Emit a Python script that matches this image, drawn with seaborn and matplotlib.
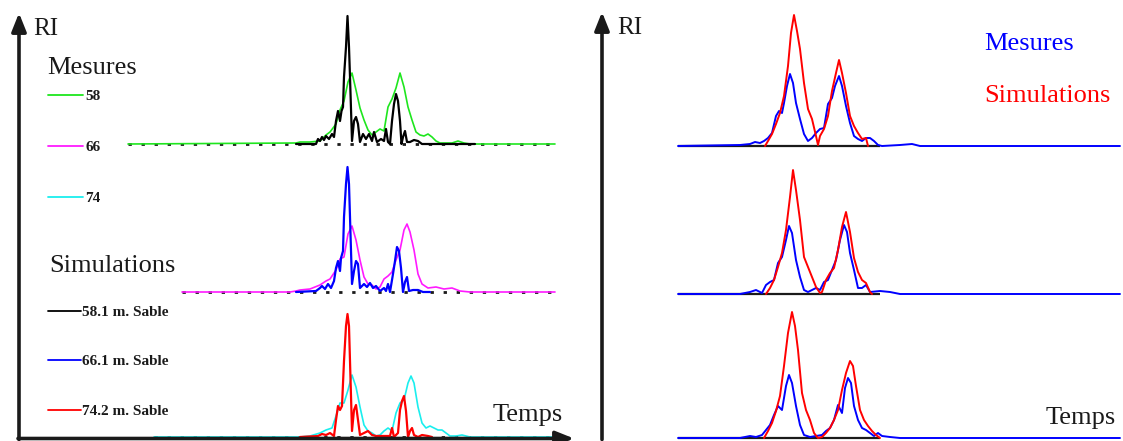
import matplotlib
matplotlib.use("Agg")
import matplotlib.pyplot as plt
import pandas as pd
import seaborn as sns

sns.set_theme(style="white")
plt.rcParams['font.family'] = ['Liberation Serif', 'DejaVu Serif']

# ---------------- data (time, RI height above each trace baseline) ----------------
# Left panel: measured curves
mes58 = [(128,0),(296,1),(300,2),(310,2),(320,3),(326,9),(330,12),(336,20),(340,34),(344,43),(348,62),
         (352,71),(356,54),(360,36),(364,24),(368,14),(372,9),(376,12),(380,15),(384,13),(388,37),(392,45),
         (396,56),(400,71),(404,57),(408,37),(412,24),(416,12),(420,9),(424,8),(428,10),(432,7),(436,3),
         (440,1),(452,1),(458,3),(464,1),(470,0),(555,0)]
mes66 = [(182,0),(290,0),(296,1),(300,2),(310,3),(320,7),(326,11),(330,13),(336,22),(340,33),(344,35),
         (348,58),(352,66),(356,52),(360,32),(364,15),(368,8),(372,7),(376,3),(380,5),(384,13),(388,16),
         (392,20),(396,32),(400,42),(404,62),(407,68),(410,60),(414,42),(418,18),(422,8),(428,4),(436,5),
         (444,3),(452,4),(460,1),(470,0),(555,0)]
mes74 = [(154,0),(300,0),(310,1),(320,4),(326,7),(332,9),(336,21),(340,34),(344,34),(348,47),(352,62),
         (356,50),(360,30),(364,12),(368,6),(372,4),(376,1),(380,2),(384,6),(388,9),(392,6),(396,24),
         (400,34),(404,37),(408,54),(411,61),(414,54),(418,30),(422,14),(426,9),(430,11),(434,9),(438,7),
         (442,7),(446,4),(450,1),(456,1),(462,2),(470,0),(555,0)]
# Left panel: simulated curves
sim58 = [(296,0),(316,0),(318,5),(320,3),(322,7),(324,4),(326,8),(329,5),(332,10),(334,7),(336,23),(338,33),
         (340,23),(341.5,33),(343,37),(344,67),(346,97),(347.5,128),(349,97),(350,67),(352,3),(354,23),
         (356,27),(358,20),(360,2),(363,10),(366,5),(369,10),(372,3),(374,12),(377,2),(381,5),(384,3),
         (386,15),(388,2),(390,0),(392,23),(394,40),(396,50),(398,43),(400,23),(401.5,0),(403,7),(405,13),
         (407,2),(410,2),(414,4),(418,3),(422,0),(475,0)]
sim66 = [(296,0),(316,1),(320,4),(322,6),(325,3),(328,8),(331,4),(334,11),(336,24),(338,31),(340,21),
         (341,34),(343,41),(344,75),(346,108),(347.5,125),(349,108),(350,75),(352,8),(354,21),(356,31),
         (358,28),(360,4),(364,8),(367,5),(370,9),(373,4),(376,6),(380,1),(384,4),(386,1),(388,8),(390,0),
         (393,18),(395,31),(397,45),(399,41),(401,24),(403,0),(405,10),(407,15),(409,1),(413,2),(418,2),
         (423,0),(430,0)]
sim74 = [(300,0),(318,1),(322,3),(326,2),(330,4),(334,1),(336,17),(338,31),(340,27),(342,31),(344,76),
         (346,111),(347.5,123),(349,111),(350,76),(352,6),(354,27),(356,32),(358,17),(360,2),(364,4),(368,6),
         (372,2),(376,1),(390,1),(392,9),(394,0),(398,4),(400,27),(402,36),(404,41),(406,26),(408,0),(410,6),
         (412,9),(414,2),(418,0),(422,2),(428,1),(432,0)]

# Right panel: measured (blue) and simulated (red)
r_mes_top = [(678,0),(740,1),(750,2),(755,4),(760,3),(764,5),(768,8),(772,13),(776,30),(779,35),(782,33),
             (784,43),(787,60),(790,72),(793,63),(796,43),(800,27),(804,12),(808,5),(812,8),(816,13),(820,17),
             (824,18),(828,42),(832,48),(835,60),(839,70),(842,60),(846,40),(850,23),(854,10),(858,7),(862,5),
             (866,8),(870,8),(874,5),(878,1),(882,0),(900,1),(912,2),(920,0),(1120,0)]
r_sim_top = [(765,0),(768,5),(772,12),(776,22),(780,33),(784,50),(788,80),(791,113),(794,131),(797,115),
             (800,97),(804,63),(808,37),(812,27),(816,10),(818,1),(820,10),(824,17),(828,30),(832,55),(836,73),
             (839,86),(842,73),(846,53),(850,30),(854,20),(858,13),(862,7),(866,8),(868,0)]
r_mes_mid = [(678,0),(740,0),(750,2),(756,4),(762,1),(766,9),(770,12),(774,14),(778,31),(782,37),(786,54),
             (789,68),(792,61),(796,34),(800,17),(804,4),(808,2),(812,4),(816,6),(820,4),(824,12),(828,14),
             (832,24),(836,34),(840,54),(844,69),(847,62),(850,41),(854,24),(858,6),(862,6),(866,9),(870,2),
             (880,3),(890,2),(900,0),(1120,0)]
r_sim_mid = [(766,0),(770,6),(774,14),(778,27),(782,41),(786,64),(790,97),(793,124),(796,104),(800,74),
             (804,37),(808,27),(812,17),(816,7),(820,1),(822,2),(826,14),(830,21),(834,26),(838,44),(842,67),
             (846,82),(850,62),(854,36),(858,22),(862,14),(866,11),(870,2),(872,0)]
r_mes_bot = [(678,0),(740,0),(750,2),(756,1),(762,3),(766,8),(770,13),(774,23),(778,32),(782,28),(786,52),
             (789,63),(792,55),(796,32),(800,13),(804,3),(810,1),(816,2),(822,3),(826,7),(830,10),(834,18),
             (838,33),(842,25),(845,50),(848,60),(851,55),(854,32),(858,18),(862,10),(866,8),(870,5),(874,2),
             (878,5),(882,2),(890,1),(900,0),(1120,0)]
r_sim_bot = [(764,0),(768,7),(772,15),(776,27),(780,42),(784,72),(788,105),(792,126),(795,112),(798,88),
             (802,45),(806,28),(810,18),(814,5),(818,0),(822,1),(826,5),(830,10),(834,18),(838,28),(842,48),
             (846,65),(850,77),(853,72),(856,52),(860,28),(864,18),(868,12),(872,7),(876,3),(880,0)]

mes_labels = ['58', '66', '74']
sim_labels = ['58.1 m. Sable', '66.1 m. Sable', '74.2 m. Sable']

# ---------------- styling / layout ----------------
GREEN, MAGENTA, CYAN = '#1ee61e', '#ff1aff', '#1aeeee'
BLUE, RED, BLACK = '#0000ff', '#ff0000', '#000000'
mes_colors = [GREEN, MAGENTA, CYAN]
sim_colors = [BLACK, BLUE, RED]
left_levels = [144, 292, 437]
right_levels = [146, 294, 438]

W, H = 1123, 441
fig = plt.figure(figsize=(W / 100, H / 100), dpi=100)
ax = fig.add_axes([0, 0, 1, 1])


def trace(pairs, base, color, lw=1.2, z=3):
    df = pd.DataFrame(pairs, columns=['t', 'h'])
    df['y'] = base - df['h']
    sns.lineplot(data=df, x='t', y='y', color=color, lw=lw, estimator=None,
                 sort=False, ax=ax, zorder=z, legend=False)


# Left panel
for mes, sim, mc, sc, lev in zip([mes58, mes66, mes74], [sim58, sim66, sim74],
                                 mes_colors, sim_colors, left_levels):
    ax.hlines(lev, mes[0][0], mes[-1][0], color='k', lw=2.0, linestyles=(0, (1.2, 3.5)), zorder=2)
    trace(mes, lev, mc, lw=1.2, z=3)
    trace(sim, lev, sc, lw=1.6, z=4)

# Right panel
for mes, sim, lev in zip([r_mes_top, r_mes_mid, r_mes_bot], [r_sim_top, r_sim_mid, r_sim_bot], right_levels):
    ax.hlines(lev, mes[0][0], 880, color='k', lw=1.6, zorder=2)
    trace(mes, lev, BLUE, lw=1.4, z=3)
    trace(sim, lev, RED, lw=1.4, z=4)

# Axis arrows
arrow = dict(arrowstyle='-|>,head_length=0.55,head_width=0.22', lw=2.6, color='k',
             shrinkA=0, shrinkB=0, mutation_scale=20)
ax.annotate('', xy=(19, 13), xytext=(19, 439.5), arrowprops=arrow, zorder=6)
ax.annotate('', xy=(574, 438.5), xytext=(18, 438.5), arrowprops=arrow, zorder=6)
ax.annotate('', xy=(602, 12), xytext=(602, 439.5), arrowprops=arrow, zorder=6)
ax.annotate('', xy=(1126, 438.5), xytext=(601, 438.5), arrowprops=arrow, zorder=6)

# Texts
big = 19
ax.text(33, 29, 'RI', fontsize=18, va='center', ha='left', color='k')
ax.text(617, 28, 'RI', fontsize=18, va='center', ha='left', color='k')
ax.text(47, 68, 'Mesures', fontsize=big, va='center', ha='left', color='k')
ax.text(49, 266, 'Simulations', fontsize=big, va='center', ha='left', color='k')
ax.text(493, 415, 'Temps', fontsize=big, va='center', ha='left', color='k')
ax.text(1046, 418, 'Temps', fontsize=big, va='center', ha='left', color='k')
ax.text(984, 44, 'Mesures', fontsize=big, va='center', ha='left', color=BLUE)
ax.text(984, 96, 'Simulations', fontsize=big, va='center', ha='left', color=RED)

# Left legends
for lab, col, yy in zip(mes_labels, mes_colors, [95, 146, 197]):
    ax.plot([48, 83], [yy, yy], color=col, lw=1.3)
    ax.text(85, yy + 1.5, lab, fontsize=11, fontweight='bold', va='center', ha='left', color='k')
for lab, col, yy in zip(sim_labels, sim_colors, [311, 360, 410]):
    ax.plot([48, 81], [yy, yy], color=col, lw=1.3)
    ax.text(82, yy + 1.5, lab, fontsize=11, fontweight='bold', va='center', ha='left', color='k')

ax.set_xlim(0, W)
ax.set_ylim(H, 0)
ax.axis('off')
fig.savefig('out.png', dpi=100, facecolor='white')
